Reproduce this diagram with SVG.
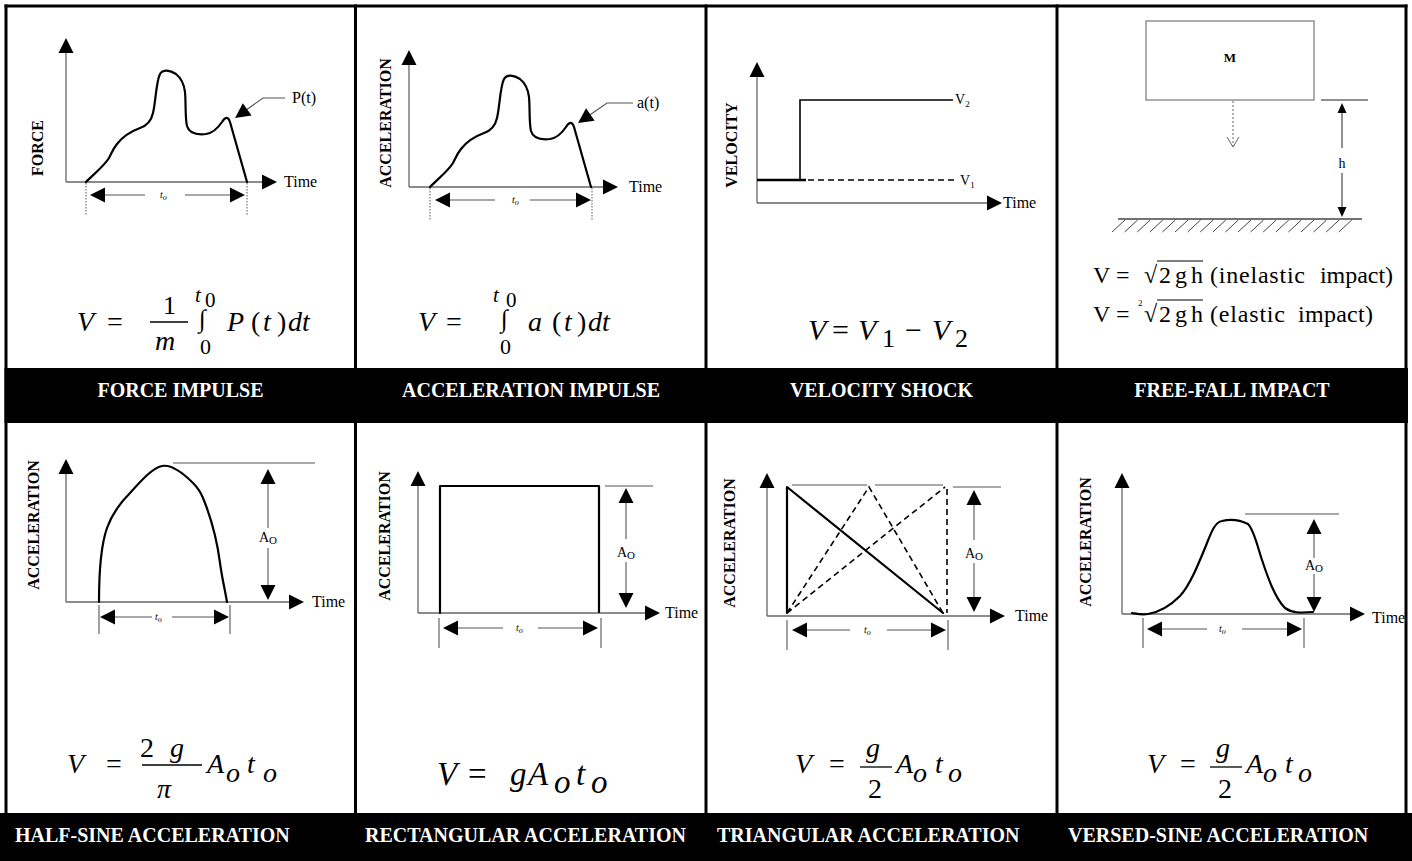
<svg xmlns="http://www.w3.org/2000/svg" width="1412" height="861" viewBox="0 0 1412 861">
<style>
text { font-family: "Liberation Serif", "Times New Roman", serif; fill:#000; }
.ax { stroke:#666; stroke-width:1.3; fill:none; }
.crv { stroke:#000; stroke-width:2.2; fill:none; stroke-linejoin:round; stroke-linecap:round; }
.dim { stroke:#555; stroke-width:1.1; fill:none; }
.dot { stroke:#555; stroke-width:1; stroke-dasharray:1.5 1.5; fill:none; }
.dash { stroke:#000; stroke-width:1.6; stroke-dasharray:6 4; fill:none; }
.bar { stroke:#000; stroke-width:1.3; }
.ylbl { font-size:16px; font-weight:bold; text-anchor:middle; }
.time { font-size:16px; }
.to { font-size:10px; font-style:italic; }
.ao { font-size:14px; text-anchor:middle; }
.hdr { font-size:20px; font-weight:bold; fill:#fff; }
.hdc { text-anchor:middle; }
.eq { font-size:28px; font-style:italic; }
.up { font-style:normal; }
.ff { font-size:24px; }
.grid { stroke:#000; stroke-width:3; fill:none; }
</style>
<defs>
<path id="ah" d="M0,0 L-15,-7.5 L-15,7.5 Z" fill="#000"/>
<path id="ahs" d="M0,0 L-10,-4.5 L-10,4.5 Z" fill="#000"/>
<path id="imp" class="crv" d="M86,182 C94,174 104,166 109,158 C112,152 113,149 117,144 C123,136 132,131 140,128 C146,126 151,122 153,113 C156,100 156,82 160,74 C163,69 170,70 176,74 C181,78 184,84 185,92 C186,102 185,118 187,126 C189,133 197,135 206,134 C213,133 218,128 222,122 C225,117 228,116 230,122 L247,182"/>
</defs>
<rect x="0" y="0" width="1412" height="861" fill="#fff"/>

<g id="frame">
<line class="grid" x1="4.5" y1="6" x2="1407.5" y2="6"/>
<line class="grid" x1="6" y1="4.5" x2="6" y2="813"/>
<line class="grid" x1="355.5" y1="4.5" x2="355.5" y2="813"/>
<line class="grid" x1="706" y1="4.5" x2="706" y2="813"/>
<line class="grid" x1="1057" y1="4.5" x2="1057" y2="813"/>
<line class="grid" x1="1406" y1="4.5" x2="1406" y2="813"/>
<rect x="4.5" y="368" width="1403.5" height="55" fill="#000"/>
<rect x="0" y="813" width="1412" height="48" fill="#000"/>
</g>

<g id="headers">
<text class="hdr hdc" x="180.5" y="397">FORCE IMPULSE</text>
<text class="hdr hdc" x="531" y="397">ACCELERATION IMPULSE</text>
<text class="hdr hdc" x="881.5" y="397">VELOCITY SHOCK</text>
<text class="hdr hdc" x="1232" y="397">FREE-FALL IMPACT</text>
<text class="hdr" x="15" y="842">HALF-SINE ACCELERATION</text>
<text class="hdr" x="365" y="842">RECTANGULAR ACCELERATION</text>
<text class="hdr" x="717" y="842">TRIANGULAR ACCELERATION</text>
<text class="hdr" x="1068" y="842">VERSED-SINE ACCELERATION</text>
</g>

<!-- Panel 1: force impulse -->
<g id="force-impulse">
<line class="ax" x1="66" y1="52" x2="66" y2="182"/>
<line class="ax" x1="66" y1="182" x2="263" y2="182"/>
<use href="#ah" transform="translate(66,38) rotate(-90)"/>
<use href="#ah" transform="translate(277,182)"/>
<text class="time" x="284" y="187">Time</text>
<text class="ylbl" transform="translate(43,148) rotate(-90)">FORCE</text>
<use href="#imp"/>
<polyline class="dim" points="285,98 263,98 242,113"/>
<use href="#ah" transform="translate(235,118) rotate(144.5)"/>
<text class="time" x="292" y="103">P(t)</text>
<line class="dot" x1="86" y1="183" x2="86" y2="215"/>
<line class="dot" x1="247" y1="183" x2="247" y2="215"/>
<line class="dim" x1="104" y1="195" x2="145" y2="195"/>
<line class="dim" x1="185" y1="195" x2="231" y2="195"/>
<use href="#ah" transform="translate(90,195) rotate(180)"/>
<use href="#ah" transform="translate(245,195)"/>
<text class="to" x="160" y="198">t<tspan style="font-size:8px" dy="2">o</tspan></text>
<text class="eq" x="77" y="331">V</text>
<text class="eq up" x="107" y="331">=</text>
<text class="eq up" x="163" y="314" style="font-size:26px">1</text>
<line class="bar" x1="150" y1="322" x2="188" y2="322"/>
<text class="eq" x="155" y="350">m</text>
<text class="eq" x="195" y="302" style="font-size:21px">t</text>
<text class="eq up" x="205" y="307" style="font-size:21px">0</text>
<text class="eq up" x="199" y="327" style="font-size:25px">∫</text>
<text class="eq up" x="200" y="354" style="font-size:22px">0</text>
<text class="eq" x="227" y="331">P</text>
<text class="eq up" x="251" y="331">(</text>
<text class="eq" x="263" y="331">t</text>
<text class="eq up" x="277" y="331">)</text>
<text class="eq" x="288" y="331">dt</text>
</g>

<!-- Panel 2: acceleration impulse -->
<g id="acceleration-impulse">
<line class="ax" x1="409" y1="64" x2="409" y2="187"/>
<line class="ax" x1="409" y1="187" x2="604" y2="187"/>
<use href="#ah" transform="translate(409,50) rotate(-90)"/>
<use href="#ah" transform="translate(618,187)"/>
<text class="time" x="629" y="192">Time</text>
<text class="ylbl" transform="translate(391,123) rotate(-90)">ACCELERATION</text>
<use href="#imp" transform="translate(344,5)"/>
<polyline class="dim" points="633,103 607,103 584,119"/>
<use href="#ah" transform="translate(578,123) rotate(145.4)"/>
<text class="time" x="637" y="108">a(t)</text>
<line class="dot" x1="430" y1="188" x2="430" y2="220"/>
<line class="dot" x1="592" y1="188" x2="592" y2="220"/>
<line class="dim" x1="449" y1="200" x2="495" y2="200"/>
<line class="dim" x1="530" y1="200" x2="577" y2="200"/>
<use href="#ah" transform="translate(435,200) rotate(180)"/>
<use href="#ah" transform="translate(591,200)"/>
<text class="to" x="512" y="203">t<tspan style="font-size:8px" dy="2">o</tspan></text>
<text class="eq" x="418" y="331">V</text>
<text class="eq up" x="446" y="331">=</text>
<text class="eq" x="493" y="302" style="font-size:21px">t</text>
<text class="eq up" x="506" y="307" style="font-size:21px">0</text>
<text class="eq up" x="501" y="327" style="font-size:25px">∫</text>
<text class="eq up" x="500" y="354" style="font-size:22px">0</text>
<text class="eq" x="528" y="331">a</text>
<text class="eq up" x="552" y="331">(</text>
<text class="eq" x="564" y="331">t</text>
<text class="eq up" x="577" y="331">)</text>
<text class="eq" x="588" y="331">dt</text>
</g>

<!-- Panel 3: velocity shock -->
<g id="velocity-shock">
<line class="ax" x1="757" y1="76" x2="757" y2="203"/>
<line class="ax" x1="757" y1="203" x2="988" y2="203"/>
<use href="#ah" transform="translate(757,62) rotate(-90)"/>
<use href="#ah" transform="translate(1002,203)"/>
<text class="time" x="1003" y="208">Time</text>
<text class="ylbl" transform="translate(737,145) rotate(-90)">VELOCITY</text>
<line x1="757" y1="180" x2="806" y2="180" stroke="#000" stroke-width="2.4"/>
<polyline points="800,180 800,100 953,100" fill="none" stroke="#000" stroke-width="1.6"/>
<line class="dash" x1="808" y1="180" x2="958" y2="180"/>
<text x="955" y="104" style="font-size:14px">V<tspan style="font-size:9px" dy="3">2</tspan></text>
<text x="960" y="185" style="font-size:14px">V<tspan style="font-size:9px" dy="3">1</tspan></text>
<text class="eq" x="808" y="340" style="font-size:30px">V</text>
<text class="eq up" x="832" y="340" style="font-size:30px">=</text>
<text class="eq" x="858" y="340" style="font-size:30px">V</text>
<text class="eq up" x="882" y="347" style="font-size:26px">1</text>
<text class="eq up" x="905" y="340" style="font-size:30px">−</text>
<text class="eq" x="932" y="340" style="font-size:30px">V</text>
<text class="eq up" x="955" y="347" style="font-size:26px">2</text>
</g>

<!-- Panel 4: free-fall impact -->
<g id="free-fall-impact">
<rect x="1146" y="21" width="168" height="79" fill="none" stroke="#777" stroke-width="1.2"/>
<text x="1230" y="62" style="font-size:13px;font-weight:bold" text-anchor="middle">M</text>
<line x1="1233" y1="101" x2="1233" y2="146" stroke="#666" stroke-width="1" stroke-dasharray="2 2"/>
<polyline points="1227,137 1233,147 1239,137" fill="none" stroke="#666" stroke-width="1"/>
<line x1="1321" y1="100" x2="1368" y2="100" stroke="#222" stroke-width="1.2"/>
<line x1="1342" y1="112" x2="1342" y2="148" stroke="#222" stroke-width="1"/>
<line x1="1342" y1="173" x2="1342" y2="208" stroke="#222" stroke-width="1"/>
<use href="#ahs" transform="translate(1342,103) rotate(-90)"/>
<use href="#ahs" transform="translate(1342,217) rotate(90)"/>
<text x="1342" y="168" style="font-size:14px" text-anchor="middle">h</text>
<line x1="1118" y1="219" x2="1362" y2="219" stroke="#444" stroke-width="1.5"/>
<path d="M1125,220 L1112,232 M1137.6,220 L1124.6,232 M1150.2,220 L1137.2,232 M1162.8,220 L1149.8,232 M1175.4,220 L1162.4,232 M1188,220 L1175,232 M1200.6,220 L1187.6,232 M1213.2,220 L1200.2,232 M1225.8,220 L1212.8,232 M1238.4,220 L1225.4,232 M1251,220 L1238,232 M1263.6,220 L1250.6,232 M1276.2,220 L1263.2,232 M1288.8,220 L1275.8,232 M1301.4,220 L1288.4,232 M1314,220 L1301,232 M1326.6,220 L1313.6,232 M1339.2,220 L1326.2,232 M1351.8,220 L1338.8,232" stroke="#444" stroke-width="1" fill="none"/>
<text class="ff" x="1093" y="283">V</text>
<text class="ff" x="1116" y="283">=</text>
<text class="ff" x="1144" y="283">√</text>
<line x1="1157" y1="261" x2="1203" y2="261" stroke="#000" stroke-width="1.2"/>
<text class="ff" x="1159" y="283" textLength="44" lengthAdjust="spacing">2gh</text>
<text class="ff" x="1210" y="283" textLength="95" lengthAdjust="spacing">(inelastic</text>
<text class="ff" x="1320" y="283" textLength="73" lengthAdjust="spacing">impact)</text>
<text class="ff" x="1093" y="322">V</text>
<text class="ff" x="1116" y="322">=</text>
<text x="1138" y="306" style="font-size:9px">2</text>
<text class="ff" x="1144" y="322">√</text>
<line x1="1157" y1="300" x2="1203" y2="300" stroke="#000" stroke-width="1.2"/>
<text class="ff" x="1159" y="322" textLength="44" lengthAdjust="spacing">2gh</text>
<text class="ff" x="1210" y="322" textLength="75" lengthAdjust="spacing">(elastic</text>
<text class="ff" x="1298" y="322" textLength="75" lengthAdjust="spacing">impact)</text>
</g>

<!-- Panel 5: half-sine -->
<g id="half-sine">
<line class="ax" x1="66" y1="473" x2="66" y2="602"/>
<line class="ax" x1="66" y1="602" x2="290" y2="602"/>
<use href="#ah" transform="translate(66,459) rotate(-90)"/>
<use href="#ah" transform="translate(304,602)"/>
<text class="time" x="312" y="607">Time</text>
<text class="ylbl" transform="translate(39,525) rotate(-90)">ACCELERATION</text>
<path class="crv" d="M99,602 C99,575 101,545 107,528 C112,514 120,503 130,493 C140,482 152,468 162,466 C172,464 184,474 193,483 C198,488 201,493 203,498 C210,515 217,540 220,563 C222,578 225,590 227,602"/>
<line class="dim" x1="173" y1="463" x2="315" y2="463"/>
<line class="dim" x1="268" y1="482" x2="268" y2="528"/>
<line class="dim" x1="268" y1="548" x2="268" y2="587"/>
<use href="#ah" transform="translate(268,469) rotate(-90)"/>
<use href="#ah" transform="translate(268,600) rotate(90)"/>
<text class="ao" x="268" y="542">A<tspan style="font-size:11px" dy="2">O</tspan></text>
<line class="dim" x1="99" y1="605" x2="99" y2="634"/>
<line class="dim" x1="230" y1="605" x2="230" y2="634"/>
<line class="dim" x1="113" y1="617" x2="152" y2="617"/>
<line class="dim" x1="172" y1="617" x2="216" y2="617"/>
<use href="#ah" transform="translate(100,617) rotate(180)"/>
<use href="#ah" transform="translate(229,617)"/>
<text class="to" x="155" y="620">t<tspan style="font-size:8px" dy="2">o</tspan></text>
<text class="eq" x="67" y="773">V</text>
<text class="eq up" x="106" y="773">=</text>
<text class="eq up" x="140" y="757">2</text>
<text class="eq" x="170" y="757">g</text>
<line class="bar" x1="142" y1="765" x2="202" y2="765"/>
<text class="eq" x="157" y="798">π</text>
<text class="eq" x="207" y="773">A</text>
<text class="eq" x="226" y="782">o</text>
<text class="eq" x="247" y="773">t</text>
<text class="eq" x="263" y="782">o</text>
</g>

<!-- Panel 6: rectangular -->
<g id="rectangular">
<line class="ax" x1="418" y1="485" x2="418" y2="613"/>
<line class="ax" x1="418" y1="613" x2="646" y2="613"/>
<use href="#ah" transform="translate(418,471) rotate(-90)"/>
<use href="#ah" transform="translate(660,613)"/>
<text class="time" x="665" y="618">Time</text>
<text class="ylbl" transform="translate(390,536) rotate(-90)">ACCELERATION</text>
<polyline class="crv" points="440,613 440,486 599,486 599,612"/>
<line class="dim" x1="605" y1="486" x2="653" y2="486"/>
<line class="dim" x1="626" y1="502" x2="626" y2="539"/>
<line class="dim" x1="626" y1="562" x2="626" y2="595"/>
<use href="#ah" transform="translate(626,488) rotate(-90)"/>
<use href="#ah" transform="translate(626,608) rotate(90)"/>
<text class="ao" x="626" y="557">A<tspan style="font-size:11px" dy="2">O</tspan></text>
<line class="dim" x1="439" y1="618" x2="439" y2="648"/>
<line class="dim" x1="601" y1="618" x2="601" y2="648"/>
<line class="dim" x1="457" y1="628" x2="503" y2="628"/>
<line class="dim" x1="538" y1="628" x2="585" y2="628"/>
<use href="#ah" transform="translate(443,628) rotate(180)"/>
<use href="#ah" transform="translate(598,628)"/>
<text class="to" x="516" y="631">t<tspan style="font-size:8px" dy="2">o</tspan></text>
<text class="eq" x="437" y="785" style="font-size:33px">V</text>
<text class="eq up" x="468" y="785" style="font-size:33px">=</text>
<text class="eq" x="510" y="785" style="font-size:33px">g</text>
<text class="eq" x="528" y="785" style="font-size:33px">A</text>
<text class="eq" x="554" y="793" style="font-size:33px">o</text>
<text class="eq" x="576" y="785" style="font-size:33px">t</text>
<text class="eq" x="591" y="793" style="font-size:33px">o</text>
</g>

<!-- Panel 7: triangular -->
<g id="triangular">
<line class="ax" x1="767" y1="487" x2="767" y2="616"/>
<line class="ax" x1="767" y1="616" x2="991" y2="616"/>
<use href="#ah" transform="translate(767,473) rotate(-90)"/>
<use href="#ah" transform="translate(1005,616)"/>
<text class="time" x="1015" y="621">Time</text>
<text class="ylbl" transform="translate(735,543) rotate(-90)">ACCELERATION</text>
<line class="dim" x1="792" y1="485" x2="867" y2="485"/>
<line class="dim" x1="875" y1="485" x2="943" y2="485"/>
<line class="dim" x1="953" y1="487" x2="1001" y2="487"/>
<path class="dash" d="M787,613 L869,487 L943,613 M787,613 L945,487 M947,489 L947,613"/>
<polyline class="crv" points="787,613 787,487 943,613"/>
<line class="dim" x1="974" y1="504" x2="974" y2="540"/>
<line class="dim" x1="974" y1="563" x2="974" y2="598"/>
<use href="#ah" transform="translate(974,490) rotate(-90)"/>
<use href="#ah" transform="translate(974,612) rotate(90)"/>
<text class="ao" x="974" y="558">A<tspan style="font-size:11px" dy="2">O</tspan></text>
<line class="dim" x1="787" y1="620" x2="787" y2="650"/>
<line class="dim" x1="948" y1="620" x2="948" y2="650"/>
<line class="dim" x1="806" y1="630" x2="850" y2="630"/>
<line class="dim" x1="887" y1="630" x2="932" y2="630"/>
<use href="#ah" transform="translate(792,630) rotate(180)"/>
<use href="#ah" transform="translate(946,630)"/>
<text class="to" x="864" y="633">t<tspan style="font-size:8px" dy="2">o</tspan></text>
<text class="eq" x="795" y="773">V</text>
<text class="eq up" x="829" y="773">=</text>
<text class="eq" x="866" y="757">g</text>
<line class="bar" x1="860" y1="767" x2="892" y2="767"/>
<text class="eq up" x="868" y="798">2</text>
<text class="eq" x="896" y="773">A</text>
<text class="eq" x="913" y="782">o</text>
<text class="eq" x="935" y="773">t</text>
<text class="eq" x="948" y="782">o</text>
</g>

<!-- Panel 8: versed-sine -->
<g id="versed-sine">
<line class="ax" x1="1122" y1="487" x2="1122" y2="614"/>
<line class="ax" x1="1122" y1="614" x2="1351" y2="614"/>
<use href="#ah" transform="translate(1122,473) rotate(-90)"/>
<use href="#ah" transform="translate(1365,614)"/>
<text class="time" x="1372" y="623">Time</text>
<text class="ylbl" transform="translate(1091,542) rotate(-90)">ACCELERATION</text>
<path class="crv" d="M1132,613 C1138,614 1142,615 1148,614 C1160,612 1170,606 1180,596 C1190,585 1198,565 1205,548 C1210,536 1214,522 1222,521 C1230,519 1240,520 1248,524 C1254,530 1257,545 1262,560 C1268,578 1275,598 1285,608 C1292,613 1300,613 1313,612"/>
<line class="dim" x1="1245" y1="514" x2="1339" y2="514"/>
<line class="dim" x1="1314" y1="533" x2="1314" y2="558"/>
<line class="dim" x1="1314" y1="574" x2="1314" y2="598"/>
<use href="#ah" transform="translate(1314,519) rotate(-90)"/>
<use href="#ah" transform="translate(1314,612) rotate(90)"/>
<text class="ao" x="1314" y="570">A<tspan style="font-size:11px" dy="2">O</tspan></text>
<line class="dim" x1="1143" y1="618" x2="1143" y2="648"/>
<line class="dim" x1="1304" y1="618" x2="1304" y2="648"/>
<line class="dim" x1="1161" y1="629" x2="1207" y2="629"/>
<line class="dim" x1="1242" y1="629" x2="1288" y2="629"/>
<use href="#ah" transform="translate(1147,629) rotate(180)"/>
<use href="#ah" transform="translate(1302,629)"/>
<text class="to" x="1219" y="632">t<tspan style="font-size:8px" dy="2">o</tspan></text>
<text class="eq" x="1147" y="773">V</text>
<text class="eq up" x="1180" y="773">=</text>
<text class="eq" x="1216" y="757">g</text>
<line class="bar" x1="1210" y1="767" x2="1242" y2="767"/>
<text class="eq up" x="1218" y="798">2</text>
<text class="eq" x="1246" y="773">A</text>
<text class="eq" x="1263" y="782">o</text>
<text class="eq" x="1285" y="773">t</text>
<text class="eq" x="1298" y="782">o</text>
</g>
</svg>
